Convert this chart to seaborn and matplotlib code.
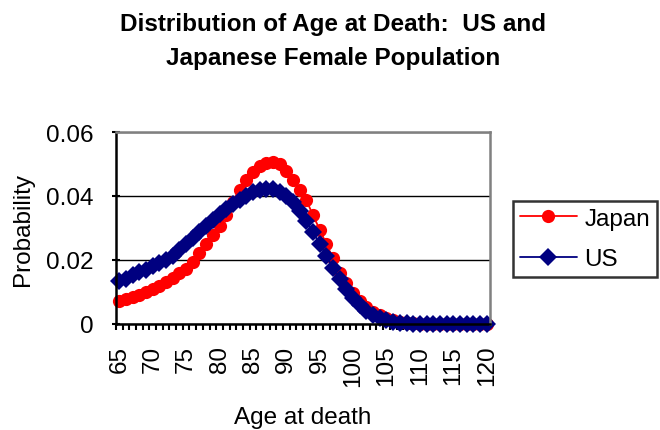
import numpy as np
import pandas as pd
import matplotlib
matplotlib.use("Agg")
import matplotlib.pyplot as plt
import seaborn as sns

# ------------------- datos
ages = list(range(65, 121))

japan = [0.0072, 0.0078, 0.0084, 0.0091, 0.0099, 0.0108, 0.0118, 0.0130, 0.0143, 0.0158,
         0.0172, 0.0195, 0.0222, 0.0250, 0.0277, 0.0307, 0.0342, 0.0382, 0.0420, 0.0450,
         0.0476, 0.0494, 0.0504, 0.0507, 0.0500, 0.0478, 0.0450, 0.0420, 0.0387, 0.0340,
         0.0295, 0.0250, 0.0205, 0.0160, 0.0127, 0.0097, 0.0073, 0.0053, 0.0038, 0.0027,
         0.0018, 0.0011, 0.0007, 0.0004, 0.0002, 0.0001, 0.0001, 0.0001, 0.0001, 0.0001,
         0.0001, 0.0001, 0.0001, 0.0001, 0.0001, 0.0001]

us = [0.0133, 0.0142, 0.0152, 0.0161, 0.0170, 0.0180, 0.0190, 0.0201, 0.0214, 0.0231,
      0.0250, 0.0268, 0.0287, 0.0306, 0.0325, 0.0343, 0.0360, 0.0375, 0.0389, 0.0401,
      0.0411, 0.0418, 0.0422, 0.0421, 0.0414, 0.0400, 0.0380, 0.0353, 0.0322, 0.0287,
      0.0250, 0.0213, 0.0175, 0.0140, 0.0108, 0.0080, 0.0058, 0.0040, 0.0027, 0.0018,
      0.0012, 0.0007, 0.0004, 0.0002, 0.0001, 0.0, 0.0, 0.0, 0.0, 0.0,
      0.0, 0.0, 0.0, 0.0, 0.0, 0.0]

age_labels = list(range(65, 121, 5))
y_ticks = [0, 0.02, 0.04, 0.06]
y_labels = ["0", "0.02", "0.04", "0.06"]

df = pd.DataFrame({"age": ages, "Japan": japan, "US": us})

# ------------------- estilo
sns.set_style("white")
plt.rcParams["font.family"] = ["Liberation Sans", "DejaVu Sans"]
plt.rcParams["text.color"] = "black"
plt.rcParams["axes.labelcolor"] = "black"
plt.rcParams["xtick.color"] = "black"
plt.rcParams["ytick.color"] = "black"
fs = 17.5

fig = plt.figure(figsize=(6.6, 4.31), dpi=100)
ax = fig.add_axes([116 / 660, 1 - 325 / 431, 374 / 660, 192 / 431])

sns.lineplot(data=df, x="age", y="Japan", ax=ax, color="#FF0000", marker="o",
             markersize=9.5, markeredgewidth=0, linewidth=1.3, label="Japan",
             clip_on=False, legend=False)
sns.lineplot(data=df, x="age", y="US", ax=ax, color="#000080", marker="D",
             markersize=8.8, markeredgewidth=0, linewidth=1.3, label="US",
             clip_on=False, legend=False)

# eje x de categorias (estilo excel)
ax.set_xlim(64.5, 120.5)
ax.set_xticks(age_labels)
ax.set_xticklabels([str(a) for a in age_labels], rotation=90, fontsize=fs)
ax.set_xticks(np.arange(64.5, 121, 1), minor=True)
ax.tick_params(axis="x", which="major", length=0, pad=15)
ax.tick_params(axis="x", which="minor", length=4, width=1.5, direction="out",
               color="black", bottom=True)

ax.set_ylim(0, 0.06)
ax.set_yticks(y_ticks)
ax.set_yticklabels(y_labels, fontsize=fs)
ax.tick_params(axis="y", length=6, width=1.5, direction="inout", pad=13,
               color="black", left=True)

ax.yaxis.grid(True, color="black", linewidth=1)
ax.xaxis.grid(False)
ax.set_axisbelow(True)

for s in ["left", "bottom"]:
    ax.spines[s].set_color("black")
    ax.spines[s].set_linewidth(1.8)
for s in ["top", "right"]:
    ax.spines[s].set_color("#808080")
    ax.spines[s].set_linewidth(1.8)

ax.set_xlabel("Age at death", fontsize=fs)
ax.set_ylabel("Probability", fontsize=fs)
ax.xaxis.set_label_coords(0.5, -0.425)
ax.yaxis.set_label_coords(-0.219, 0.5)

fig.text(333 / 660, 1 - 13 / 431,
         "Distribution of Age at Death:  US and\nJapanese Female Population",
         ha="center", va="top", fontsize=fs, fontweight="bold", linespacing=1.6)

leg = fig.legend(loc="upper left", bbox_to_anchor=(513 / 660, 1 - 202 / 431),
                 fontsize=fs, frameon=True, fancybox=False, handlelength=2.35,
                 handletextpad=0.3, labelspacing=0.75, borderpad=0.28,
                 borderaxespad=0)
leg.get_frame().set_edgecolor("black")
leg.get_frame().set_linewidth(1.8)

fig.savefig("out.png", dpi=100)
